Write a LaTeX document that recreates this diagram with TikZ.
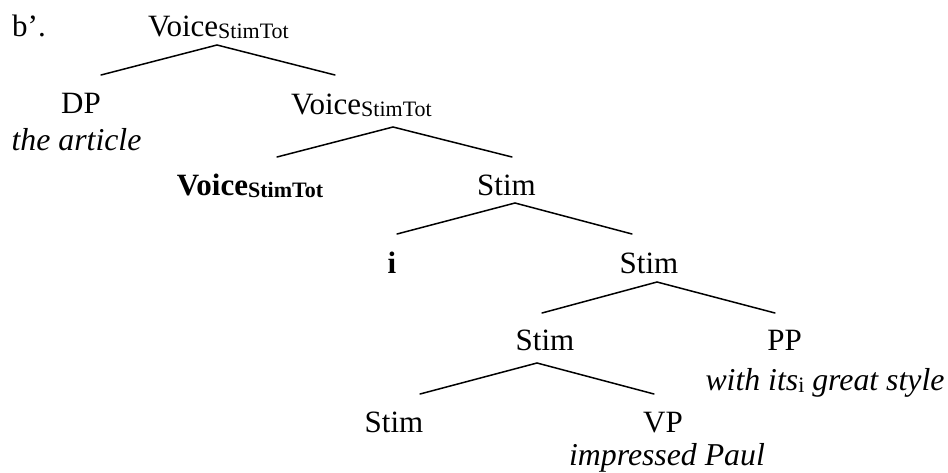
\documentclass[tikz,border=0pt]{standalone}
\usepackage{fontspec}
\setmainfont{Liberation Serif}
\newcommand{\subx}[1]{{\fontsize{22}{22}\selectfont\raisebox{-2pt}{#1}}}
\begin{document}
\begin{tikzpicture}[x=1pt,y=-1pt,
  lbl/.style={inner sep=0pt, anchor=base, font=\fontsize{31}{31}\selectfont},
  itl/.style={inner sep=0pt, anchor=base, font=\fontsize{31.8}{31.8}\selectfont\itshape},
  br/.style={line width=1.5pt, line cap=round}]
\useasboundingbox (0,0) rectangle (948,472);
% labels
\node[lbl, anchor=base west] (ex) at (12,36) {b’.};
\node[lbl] (n0)  at (218.5,36) {Voice\subx{StimTot}};
\node[lbl] (dp)  at (81,113) {DP};
\node[itl] (dpt) at (76.5,150) {the article};
\node[lbl] (n1)  at (361.5,114) {Voice\subx{StimTot}};
\node[lbl] (v2)  at (250,195) {\bfseries Voice\subx{StimTot}};
\node[lbl] (s2)  at (506.5,195) {Stim};
\node[lbl] (i3)  at (392,273) {\bfseries i};
\node[lbl] (s3)  at (649,273) {Stim};
\node[lbl] (s4)  at (545,350) {Stim};
\node[lbl] (pp)  at (784.5,350) {PP};
\node[itl] (ppt) at (825,390) {with its\subx{\upshape i} great style};
\node[lbl] (s5)  at (394,432) {Stim};
\node[lbl] (vp)  at (663,432) {VP};
\node[itl] (vpt) at (667,465) {impressed Paul};
% branch points
\coordinate (a0) at (217,45);  \coordinate (l0) at (101,75);  \coordinate (r0) at (335,75);
\coordinate (a1) at (393,127); \coordinate (l1) at (277,157); \coordinate (r1) at (512,157);
\coordinate (a2) at (515,203); \coordinate (l2) at (397,234); \coordinate (r2) at (632,234);
\coordinate (a3) at (657,282); \coordinate (l3) at (542,313); \coordinate (r3) at (775,313);
\coordinate (a4) at (537,363); \coordinate (l4) at (420,394); \coordinate (r4) at (654,394);
\draw[br] (l0) -- (a0) -- (r0);
\draw[br] (l1) -- (a1) -- (r1);
\draw[br] (l2) -- (a2) -- (r2);
\draw[br] (l3) -- (a3) -- (r3);
\draw[br] (l4) -- (a4) -- (r4);
\end{tikzpicture}
\end{document}
